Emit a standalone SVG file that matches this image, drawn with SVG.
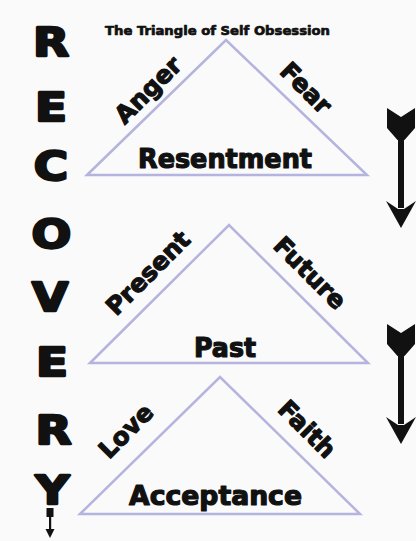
<svg xmlns="http://www.w3.org/2000/svg" width="416" height="541" viewBox="0 0 416 541">
<style>
.bg{fill:#fafafa}
.tri{fill:none;stroke:#b4b4de;stroke-width:2.5;stroke-linejoin:miter}
.t{font-family:"DejaVu Sans","Liberation Sans",sans-serif;font-weight:bold;fill:#111;stroke:#111;stroke-width:1;stroke-linejoin:round}
.big{font-size:39px;text-anchor:middle;stroke-width:2.4}
.lab{font-size:26px;text-anchor:middle;stroke-width:1.2}
.diag{font-size:24.5px;text-anchor:middle;stroke-width:1.2}
.title{font-size:12.5px;stroke-width:0.7}
.arr{fill:#111}
</style>
<defs>
<g id="bigArrow" class="arr">
<path d="M-14,0 L0,9 L14,0 L14,20 L3.5,32 L-3.5,32 L-14,20 Z"/>
<rect x="-3" y="30" width="6" height="70"/>
<path d="M-15,93 L-3,101 L3,101 L15,93 L0,120 Z"/>
</g>
</defs>
<rect class="bg" x="0" y="0" width="416" height="541"/>
<g id="recovery">
<text class="t big" transform="translate(51,56) scale(1.2,1)">R</text>
<text class="t big" transform="translate(51,121) scale(1.2,1)">E</text>
<text class="t big" transform="translate(51,180) scale(1.2,1)">C</text>
<text class="t big" transform="translate(51.5,248) scale(1.2,1)">O</text>
<text class="t big" transform="translate(50,311) scale(1.2,1)">V</text>
<text class="t big" transform="translate(52,376) scale(1.2,1)">E</text>
<text class="t big" transform="translate(53.5,444) scale(1.2,1)">R</text>
<text class="t big" transform="translate(52.5,504) scale(1.2,1)">Y</text>
</g>
<g id="title">
<text class="t title" x="105" y="35" textLength="225" lengthAdjust="spacingAndGlyphs">The Triangle of Self Obsession</text>
</g>
<g id="triangle1">
<path class="tri" d="M87,175 L226,40 L367,175 Z"/>
<text class="t diag" transform="translate(154,96) rotate(-45)">Anger</text>
<text class="t diag" transform="translate(300,94) rotate(45)">Fear</text>
<text class="t lab" x="225" y="168" textLength="174" lengthAdjust="spacingAndGlyphs">Resentment</text>
</g>
<g id="triangle2">
<path class="tri" d="M90,363 L229,225 L368,363 Z"/>
<text class="t diag" transform="translate(154,279) rotate(-45)">Present</text>
<text class="t diag" transform="translate(304,279) rotate(45)">Future</text>
<text class="t lab" x="225" y="357" textLength="62" lengthAdjust="spacingAndGlyphs">Past</text>
</g>
<g id="triangle3">
<path class="tri" d="M80,514 L220,377 L360,514 Z"/>
<text class="t diag" transform="translate(132,437) rotate(-45)">Love</text>
<text class="t diag" transform="translate(301,435) rotate(45)">Faith</text>
<text class="t lab" x="215.5" y="505" textLength="173" lengthAdjust="spacingAndGlyphs">Acceptance</text>
</g>
<g id="connectors">
<use href="#bigArrow" transform="translate(401,108)"/>
<use href="#bigArrow" transform="translate(401,324)"/>
<g id="smallArrow" class="arr">
<rect x="46.5" y="508" width="7" height="9"/>
<rect x="49" y="516" width="2.2" height="15"/>
<path d="M45.5,529 L50,538 L54.5,529 Z"/>
</g>
</g>
</svg>
